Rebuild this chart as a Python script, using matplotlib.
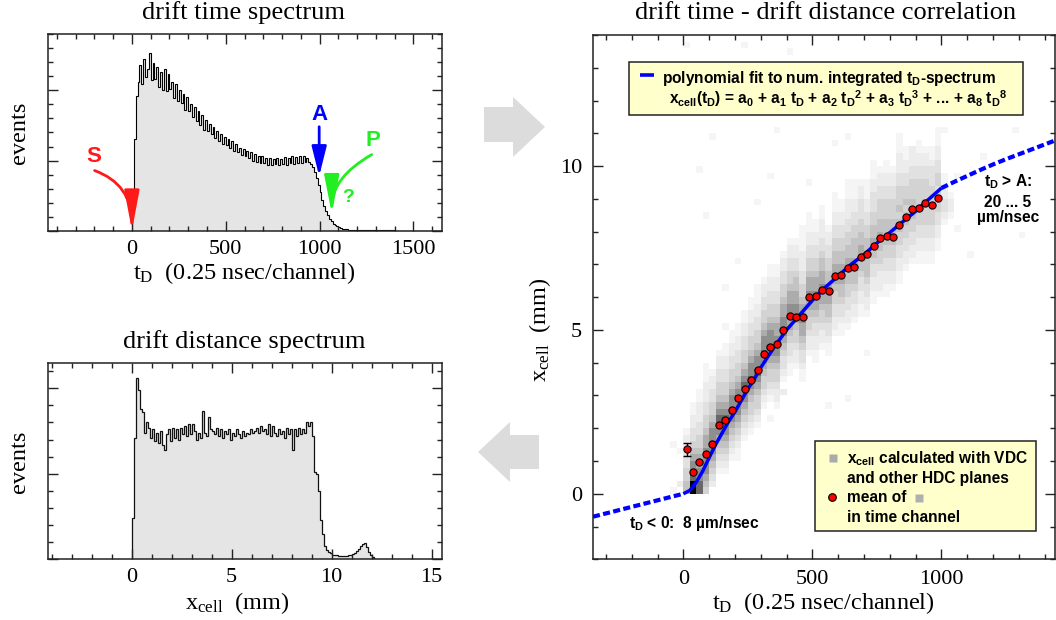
import numpy as np
import matplotlib
matplotlib.use('Agg')
import matplotlib.pyplot as plt
from matplotlib.colors import ListedColormap, BoundaryNorm
from matplotlib.patches import Rectangle, Polygon, FancyArrowPatch
from matplotlib.lines import Line2D
from matplotlib.ticker import MultipleLocator

plt.rcParams['font.family'] = ['Liberation Serif', 'DejaVu Serif']
plt.rcParams['mathtext.fontset'] = 'custom'
plt.rcParams['mathtext.rm'] = 'Liberation Serif'
plt.rcParams['mathtext.it'] = 'Liberation Serif:italic'
plt.rcParams['mathtext.bf'] = 'Liberation Serif:bold'
plt.rcParams['mathtext.sf'] = 'Liberation Sans:bold'

# ---------------- data ----------------
# drift time spectrum, 10-channel bins starting at channel 0
time_counts = [
    2.5, 6.5, 9.6,
    10.6, 11.8, 10.4, 12.2, 10.9, 11.5, 12.6, 10.7, 11.9, 10.8,
    11.6, 10.2, 11.3, 10.0, 11.5, 9.9, 11.1, 10.1, 10.6, 9.4,
    10.4, 9.2, 10.0, 9.1, 9.7, 8.6, 9.5, 8.5, 9.0, 8.1,
    8.8, 7.8, 8.5, 7.5, 8.2, 7.2, 7.9, 7.1, 7.6, 6.9,
    7.4, 6.6, 7.1, 6.4, 6.9, 6.2, 6.7, 6.1, 6.5, 5.9,
    6.4, 5.7, 6.2, 5.6, 5.9, 5.4, 5.8, 5.3, 5.7, 5.2,
    5.6, 5.0, 5.5, 4.9, 5.3, 4.8, 5.3, 4.8, 5.2, 4.7,
    5.2, 4.7, 5.1, 4.75, 5.2, 4.7, 5.15, 4.75, 5.25, 4.7,
    5.2, 4.8, 5.3, 4.75, 5.25, 4.85, 5.35, 4.8, 5.3, 4.9,
    5.2, 4.9, 4.75, 4.55, 4.2, 3.8, 3.3, 2.75, 2.25, 1.8,
    1.45, 1.15, 0.9, 0.7, 0.55, 0.43, 0.34, 0.28, 0.23, 0.19,
    0.16, 0.14, 0.12]
time_tail_edges = [1160, 1200, 1250, 1300, 1400, 1500, 1650]
time_tail_counts = [0.11, 0.09, 0.07, 0.06, 0.05, 0.04]

# drift distance spectrum, 0.1 mm bins starting at 0 mm
dist_counts = [
    2.4, 7.1, 10.6, 9.9, 8.8, 8.6, 7.4, 8.0, 7.7, 7.1,
    7.6, 6.9, 7.4, 6.8, 7.5, 6.7, 6.4, 7.3, 7.6, 6.9,
    7.7, 7.1, 7.6, 7.0, 7.7, 7.3, 7.8, 7.2, 7.9, 7.3,
    7.9, 7.5, 7.0, 7.4, 7.1, 8.7, 7.4, 7.2, 8.3, 7.6,
    7.5, 7.3, 7.7, 7.2, 7.6, 7.1, 7.5, 7.3, 7.6, 7.0,
    7.4, 7.2, 7.6, 7.3, 7.1, 7.5, 7.2, 7.4, 7.3, 7.6,
    7.4, 7.5, 7.7, 7.4, 7.8, 7.5, 7.6, 7.3, 7.9, 7.2,
    7.8, 7.4, 7.2, 7.6, 7.3, 7.5, 7.1, 7.7, 7.3, 7.6,
    6.4, 7.6, 7.2, 7.7, 7.3, 7.6, 7.4, 8.05, 7.8, 8.05,
    7.2, 5.1, 5.0, 4.0, 2.3, 1.5, 0.75, 0.55, 0.45, 0.35,
    0.28, 0.25, 0.23, 0.22, 0.21, 0.2, 0.2, 0.21, 0.23, 0.26,
    0.3, 0.38, 0.48, 0.6, 0.75, 0.9, 0.95, 0.7, 0.45, 0.25,
    0.12, 0.04]

# polynomial fit curve
fit_t = [0, 25, 50, 75, 100, 125, 150, 175, 200, 225, 250, 275, 300, 350,
         400, 450, 500, 550, 600, 650, 700, 750, 800, 850, 900, 950, 1000]
fit_x = [0.0, 0.1, 0.35, 0.69, 1.1, 1.5, 1.85, 2.2, 2.5, 2.85, 3.2, 3.5, 3.85,
         4.45, 5.0, 5.45, 5.9, 6.3, 6.65, 7.0, 7.3, 7.65, 7.97, 8.3, 8.62, 8.98, 9.33]
fit_low_t = [-350, 0]
fit_low_x = [-0.7, 0.0]
fit_high_t = [1000, 1050, 1100, 1150, 1200, 1250, 1300, 1350, 1400, 1440]
fit_high_x = [9.33, 9.52, 9.7, 9.88, 10.05, 10.21, 10.36, 10.51, 10.66, 10.78]

# mean x_cell per time channel
mean_t = [12.5, 37.5, 62.5, 87.5, 112.5, 137.5, 162.5, 187.5, 212.5, 237.5,
          262.5, 287.5, 312.5, 337.5, 362.5, 387.5, 412.5, 437.5, 462.5, 487.5,
          512.5, 537.5, 562.5, 587.5, 612.5, 637.5, 662.5, 687.5, 712.5, 737.5,
          762.5, 787.5, 812.5, 837.5, 862.5, 887.5, 912.5, 937.5, 962.5, 987.5]
mean_x = [1.36, 0.67, 0.96, 1.22, 1.53, 2.1, 2.25, 2.55, 2.92, 3.21,
          3.46, 3.78, 4.25, 4.48, 4.56, 5.0, 5.41, 5.40, 5.38, 6.0,
          6.03, 6.21, 6.18, 6.64, 6.67, 6.9, 6.93, 7.22, 7.32, 7.57,
          7.8, 7.86, 7.83, 8.2, 8.45, 8.68, 8.72, 8.87, 8.81, 9.04]
err_t = [12.5]
err_x = [1.36]
err_dx = [0.2]

# 2D histogram (25 channels x 0.2 mm cells); gray level 1..9 per cell
# for time columns starting at channel 0, 25, 50, ...: first row (x=0.2*row) and levels
band_start = [0, 0, 0, 0, 1, 3, 3, 5, 5, 8, 9, 10, 13, 14, 13, 17, 18, 19, 17, 21,
              21, 22, 21, 24, 24, 25, 26, 27, 27, 29, 30, 30, 31, 32, 34, 35, 35, 35, 36, 37,
              41, 42]
band_levels = [
    "5544332221", "99877654332211", "8877665443322211", "4567777665443322211",
    "234567777654433221", "1234567787654433221", "12345677876544332211",
    "12345678776544332211", "112345677876544332211", "12345677876544332211",
    "123445678776544332211", "1234456787765443322111", "12344567877654433221",
    "123445677776544332211", "1223445677766544332211", "12334567776654433221",
    "112334566776654433221", "12234456776655433221", "11233456676654433222111",
    "1223445667665443322111", "122334566766544332211", "1223445667665543322211",
    "11233455666554433221", "1223344566655443322111", "112334556665544332211",
    "12233445566554433222111", "1223345566555443322111", "112233455665544333221",
    "12233455565544332211", "1122334556554433322111", "12223445565544433221",
    "112233445555444332211", "1223344555544433221", "11223344554544433222111",
    "1223344554544332211", "122334454544433221", "1122334454444332211",
    "112233444544433221", "12233444444333211", "1122334443443322111",
    "12332211", "1221"]
scatter_t = [-12, -37, -12, -37, 23, 120, 243, 424, 372, 592, 640, 488, 204, 88, 62,
             1018, 1108, 1314, 888, 837, 75, 566, 630, 708, 345, 398, 160, 280, 330,
             150, 520, 760, 820, 950, 1050, 1060, 700, 450, 600, 550, 300, 40, 1150, 1280]
scatter_x = [1.3, 1.4, 0.3, 0.1, 13.65, 10.9, 13.75, 13.5, 11.1, 10.6, 10.8, 9.47, 7.1,
             8.55, 9.87, 11.1, 7.2, 7.94, 10.4, 9.87, 3.96, 2.63, 2.94, 4.36, 2.3, 3.14,
             6.2, 8.9, 9.6, 5.0, 4.0, 6.0, 6.6, 7.0, 8.0, 9.6, 9.4, 8.0, 8.6, 11.8, 12.2,
             11.8, 10.2, 11.0]
scatter_level = [1, 1, 2, 1, 1, 1, 1, 1, 1, 1, 1, 1, 1, 1, 1, 1, 1, 1, 2, 2, 1, 1, 1, 1,
                 1, 2, 1, 1, 1, 1, 1, 1, 1, 1, 1, 1, 1, 1, 1, 1, 1, 1, 1, 1]

# ---------------- figure ----------------
W, Hh = 1056, 620
fig = plt.figure(figsize=(W / 100, Hh / 100), dpi=100)


def fx(px):
    return px / W


def fy(py):
    return 1 - py / Hh


def axes_px(x0, y0, x1, y1):
    return fig.add_axes([fx(x0), fy(y1), (x1 - x0) / W, (y1 - y0) / Hh])


def style(ax, xmaj, xmin, ymaj, ymin, ylab, pad):
    ax.xaxis.set_major_locator(MultipleLocator(xmaj))
    ax.xaxis.set_minor_locator(MultipleLocator(xmin))
    ax.yaxis.set_major_locator(MultipleLocator(ymaj))
    ax.yaxis.set_minor_locator(MultipleLocator(ymin))
    ax.tick_params(which='both', direction='in', top=True, right=True,
                   width=1.0, color='#222222')
    ax.tick_params(which='major', length=7)
    ax.tick_params(which='minor', length=3.8)
    ax.tick_params(axis='both', labelsize=16, pad=pad)
    if not ylab:
        ax.tick_params(axis='y', labelleft=False)
    for s in ax.spines.values():
        s.set_linewidth(1.1)
        s.set_color('#222222')


FILL = '#e5e5e5'

# ---- top left: drift time spectrum
ax1 = axes_px(47.5, 33.5, 441.5, 231.3)
edges_t = np.concatenate([np.arange(0, 1161, 10), time_tail_edges[1:]])
counts_t = np.array(time_counts + time_tail_counts)
ax1.stairs(counts_t, edges_t, fill=True, color=FILL, lw=0)
ax1.stairs(counts_t, edges_t, color='black', lw=0.8)
ax1.set_xlim(-450, 1650)
ax1.set_ylim(0, 14)
style(ax1, 500, 100, 5, 1, False, 6)

# arrows S, A, P
ax1.add_patch(FancyArrowPatch((-199, 4.3), (0, 0.05),
                              connectionstyle="angle3,angleA=-20,angleB=90",
                              arrowstyle="-|>,head_length=2.4,head_width=0.45",
                              mutation_scale=10, lw=2.0, color='#ff1a1a',
                              shrinkA=0, shrinkB=0, zorder=5))
ax1.add_patch(FancyArrowPatch((998, 7.4), (998, 3.9),
                              arrowstyle="-|>,head_length=1.8,head_width=0.45",
                              mutation_scale=10, lw=2.0, color='#0000ff',
                              shrinkA=0, shrinkB=0, zorder=5))
ax1.add_patch(FancyArrowPatch((1278, 5.43), (1065, 1.26),
                              connectionstyle="angle3,angleA=210,angleB=90",
                              arrowstyle="-|>,head_length=2.3,head_width=0.45",
                              mutation_scale=10, lw=2.0, color='#22ee22',
                              shrinkA=0, shrinkB=0, zorder=5))
sans_b = dict(family='Liberation Sans', weight='bold')
ax1.text(-203, 5.3, 'S', color='#ff1a1a', fontsize=16, ha='center', va='center', **sans_b)
ax1.text(998, 8.3, 'A', color='#0000ff', fontsize=16, ha='center', va='center', **sans_b)
ax1.text(1287, 6.4, 'P', color='#22ee22', fontsize=16, ha='center', va='center', **sans_b)
ax1.text(1152, 2.4, '?', color='#22ee22', fontsize=14, ha='center', va='center', **sans_b)

# ---- bottom left: drift distance spectrum
ax2 = axes_px(47.5, 363.3, 441.5, 559.3)
edges_x = np.round(np.arange(0, 12.21, 0.1), 2)
ax2.stairs(dist_counts, edges_x, fill=True, color=FILL, lw=0)
ax2.stairs(dist_counts, edges_x, color='#111111', lw=0.9)
ax2.set_xlim(-4.2, 15.5)
ax2.set_ylim(0, 11.46)
style(ax2, 5, 1, 5, 1, False, 6)

# ---- right: correlation
ax3 = axes_px(593, 35, 1055, 559.3)
t_edges = np.arange(-100, 1451, 25)
x_edges = np.round(np.arange(-2, 14.001, 0.2), 2)
Hist = np.zeros((len(x_edges) - 1, len(t_edges) - 1))
for k, (s, lv) in enumerate(zip(band_start, band_levels)):
    col = k + 4
    for i, ch in enumerate(lv):
        Hist[s + i + 10, col] = int(ch)
for t, x, l in zip(scatter_t, scatter_x, scatter_level):
    ci = np.searchsorted(t_edges, t, 'right') - 1
    ri = np.searchsorted(x_edges, x, 'right') - 1
    Hist[ri, ci] = max(Hist[ri, ci], l)
grays = ['#f5f5f5', '#ececec', '#e1e1e1', '#d3d3d3', '#c3c3c3',
         '#acacac', '#8f8f8f', '#686868', '#000000']
cmap = ListedColormap(grays)
norm = BoundaryNorm(np.arange(0.5, 10, 1), 9)
ax3.pcolormesh(t_edges, x_edges, np.ma.masked_equal(Hist, 0), cmap=cmap, norm=norm,
               zorder=1)
ax3.plot(fit_t, fit_x, color='#0000ff', lw=2.5, zorder=3, solid_capstyle='butt')
ax3.plot(fit_low_t, fit_low_x, color='#0000ff', lw=3, dashes=(1.7, 0.8),
         dash_capstyle='butt', zorder=3)
ax3.plot(fit_high_t, fit_high_x, color='#0000ff', lw=3, dashes=(1.7, 0.8),
         dash_capstyle='butt', zorder=3)
ax3.errorbar(err_t, err_x, yerr=err_dx, fmt='none', ecolor='black', elinewidth=1.0,
             capsize=3, capthick=1.0, zorder=4)
ax3.plot(mean_t, mean_x, 'o', ms=5.2, mfc='#ff0000', mec='black', mew=0.8, zorder=5)
ax3.set_xlim(-350, 1440)
ax3.set_ylim(-2, 14)
style(ax3, 500, 100, 5, 1, True, 7.5)
ax3.tick_params(axis='y', pad=8)

# legend boxes
ax3.add_patch(Rectangle((0.0786, 0.848), 0.852, 0.100, transform=ax3.transAxes,
                        facecolor='#ffffcc', edgecolor='#222222', lw=1.1, zorder=6))
ax3.add_patch(Rectangle((0.481, 0.054), 0.478, 0.1713, transform=ax3.transAxes,
                        facecolor='#ffffcc', edgecolor='#222222', lw=1.1, zorder=6))

fs = 11.2
fig.add_artist(Line2D([fx(640), fx(654)], [fy(75), fy(75)], color='#0000ff', lw=2.6,
                      solid_capstyle='butt', zorder=10))
fig.text(fx(661.7), fy(83), r'polynomial fit to num. integrated t$_{\mathsf{D}}$-spectrum',
         fontsize=fs, ha='left', va='baseline', zorder=10, **sans_b)
fig.text(fx(669.3), fy(104),
         r'x$_{\mathsf{cell}}$(t$_{\mathsf{D}}$) = a$_{\mathsf{0}}$ + a$_{\mathsf{1}}$ '
         r't$_{\mathsf{D}}$ + a$_{\mathsf{2}}$ t$_{\mathsf{D}}{}^{\mathsf{2}}$ + '
         r'a$_{\mathsf{3}}$ t$_{\mathsf{D}}{}^{\mathsf{3}}$ + ... + '
         r'a$_{\mathsf{8}}$ t$_{\mathsf{D}}{}^{\mathsf{8}}$',
         fontsize=fs, ha='left', va='baseline', zorder=10, **sans_b)

fig.text(fx(846.7), fy(463.3), r'x$_{\mathsf{cell}}$ calculated with VDC',
         fontsize=fs, ha='left', va='baseline', zorder=10, **sans_b)
fig.text(fx(846.7), fy(482.7), 'and other HDC planes',
         fontsize=fs, ha='left', va='baseline', zorder=10, **sans_b)
fig.text(fx(846.7), fy(501.7), 'mean of',
         fontsize=fs, ha='left', va='baseline', zorder=10, **sans_b)
fig.text(fx(846.7), fy(521.7), 'in time channel',
         fontsize=fs, ha='left', va='baseline', zorder=10, **sans_b)
fig.add_artist(Line2D([fx(832.5)], [fy(458)], marker='s', ms=6, mfc='#aaaaaa',
                      mec='none', zorder=10))
fig.add_artist(Line2D([fx(831.7)], [fy(496.7)], marker='o', ms=5.5, mfc='#ff0000',
                      mec='black', mew=0.8, zorder=10))
fig.add_artist(Line2D([fx(919)], [fy(498)], marker='s', ms=6, mfc='#b0b0b0',
                      mec='none', zorder=10))

fig.text(fx(629.3), fy(528.3), r't$_{\mathsf{D}}$ < 0:  8 µm/nsec',
         fontsize=fs, ha='left', va='baseline', zorder=10, **sans_b)
fig.text(fx(1008), fy(187), r't$_{\mathsf{D}}$ > A:', fontsize=fs, ha='center',
         va='baseline', zorder=10, **sans_b)
fig.text(fx(1008), fy(207), '20 ... 5', fontsize=fs, ha='center',
         va='baseline', zorder=10, **sans_b)
fig.text(fx(1008), fy(222), 'µm/nsec', fontsize=fs, ha='center',
         va='baseline', zorder=10, **sans_b)

# titles and axis labels
tfs = 19
lfs = 17.5
fig.text(fx(244), fy(13), 'drift time spectrum', fontsize=tfs, ha='center', va='center')
fig.text(fx(244), fy(342), 'drift distance spectrum', fontsize=tfs, ha='center', va='center')
fig.text(fx(826), fy(13), 'drift time - drift distance correlation', fontsize=tfs,
         ha='center', va='center')
fig.text(fx(244), fy(273), r't$_{\mathrm{D}}$  (0.25 nsec/channel)', fontsize=lfs,
         ha='center', va='center')
fig.text(fx(237), fy(603), r'x$_{\mathrm{cell}}$  (mm)', fontsize=lfs,
         ha='center', va='center')
fig.text(fx(823), fy(603), r't$_{\mathrm{D}}$  (0.25 nsec/channel)', fontsize=lfs,
         ha='center', va='center')
fig.text(fx(19), fy(133), 'events', fontsize=lfs, rotation=90, ha='center', va='center')
fig.text(fx(19), fy(462), 'events', fontsize=lfs, rotation=90, ha='center', va='center')
fig.text(fx(540), fy(330), r'x$_{\mathrm{cell}}$  (mm)', fontsize=lfs, rotation=90,
         ha='center', va='center')

# grey block arrows between panels
right_arrow = [(484, 107), (513, 107), (513, 97), (545, 127), (513, 157), (513, 142),
               (484, 142)]
left_arrow = [(539, 435), (510, 435), (510, 422), (478, 452), (510, 482), (510, 469),
              (539, 469)]
for poly in (right_arrow, left_arrow):
    fig.add_artist(Polygon([(fx(a), fy(b)) for a, b in poly], closed=True,
                           facecolor='#dcdcdc', edgecolor='none',
                           transform=fig.transFigure))

fig.savefig('out.png', dpi=100)
